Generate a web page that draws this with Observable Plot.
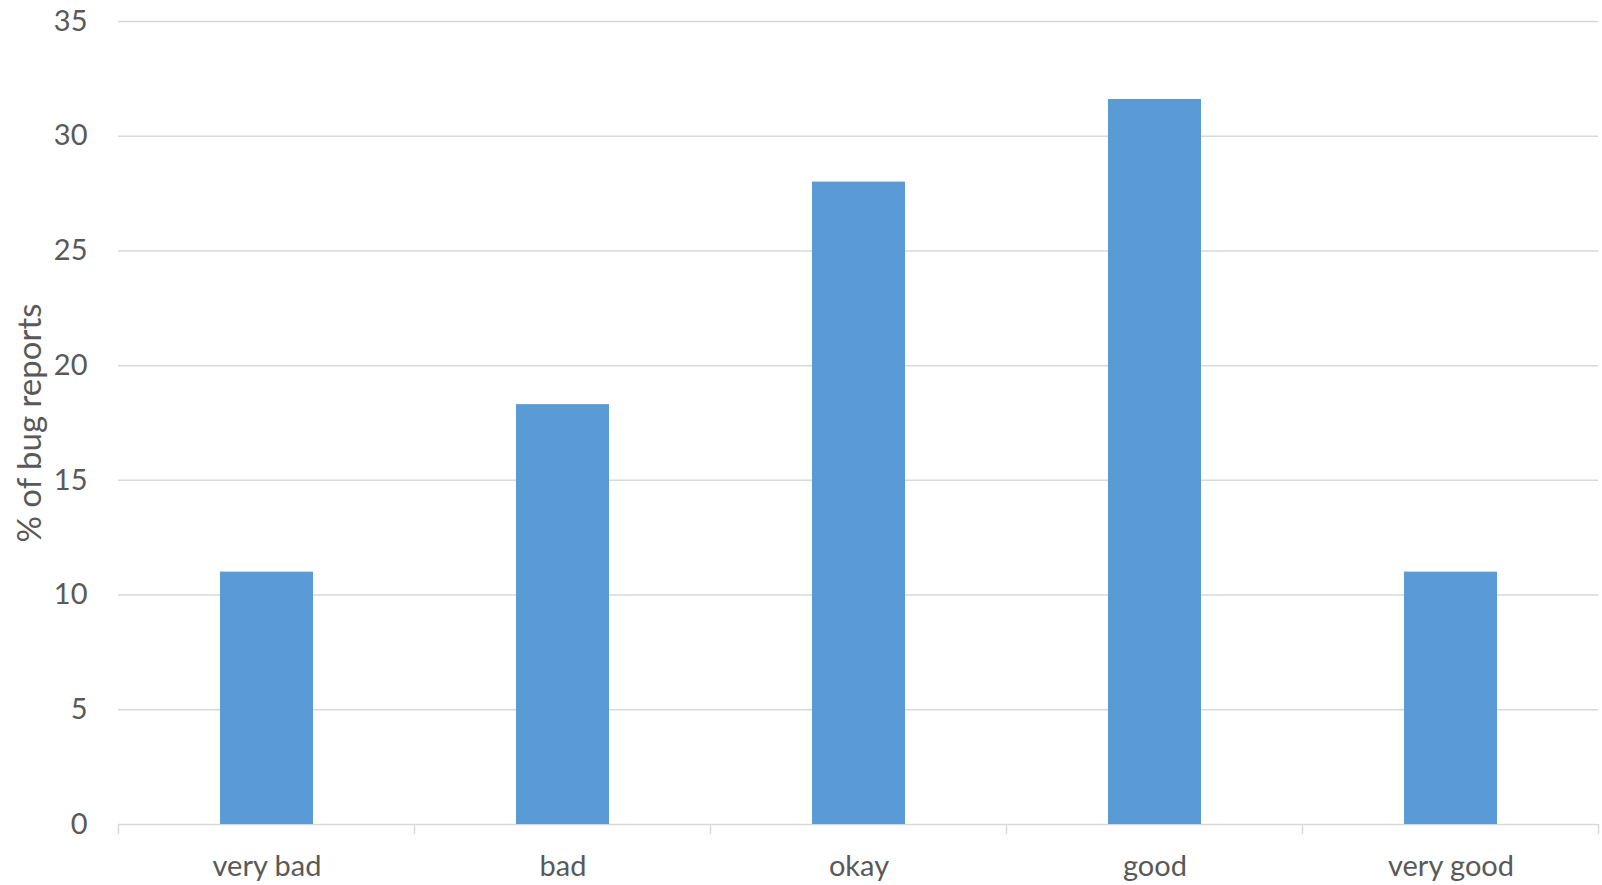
<!DOCTYPE html>
<html>
<head>
<meta charset="utf-8">
<script src="https://cdn.jsdelivr.net/npm/d3@7"></script>
<script src="https://cdn.jsdelivr.net/npm/@observablehq/plot@0.6"></script>
<style>
  html, body { margin: 0; padding: 0; background: #fff; }
  #chart svg { display: block; }
</style>
</head>
<body>
<div id="chart"></div>
<script>
const categories = ["very bad", "bad", "okay", "good", "very good"];
const values = [11.0, 18.3, 28.0, 31.6, 11.0];
const yTicks = [0, 5, 10, 15, 20, 25, 30, 35];
const yLabel = "% of bug reports";

const data = categories.map((c, i) => ({category: c, value: values[i]}));

const textColor = "#595959";
const gridColor = "#d9d9d9";
const barColor = "#5B9BD5";
const font = "Lato, 'Open Sans', sans-serif";

// boundary ticks between categories, drawn with the x band scale
function boundaryTicks(index, scales, values, dimensions) {
  const x = scales.x;
  const y = scales.y;
  const g = d3.create("svg:g");
  const step = x.step ? x.step() : (x(categories[1]) - x(categories[0]));
  const bw = x.bandwidth ? x.bandwidth() : 0;
  const y0 = y(0);
  const edges = categories.map(c => x(c) + bw / 2 - step / 2);
  edges.push(x(categories[categories.length - 1]) + bw / 2 + step / 2);
  for (const e of edges) {
    g.append("line")
      .attr("x1", e).attr("x2", e)
      .attr("y1", y0).attr("y2", y0 + 10)
      .attr("stroke", gridColor)
      .attr("stroke-width", 1.5);
  }
  return g.node();
}

const chart = Plot.plot({
  width: 1602,
  height: 885,
  marginLeft: 118,
  marginRight: 4,
  marginTop: 21,
  marginBottom: 61,
  style: {fontFamily: font, fontSize: "29px", color: textColor, background: "#fff"},
  x: {domain: categories, paddingInner: 0.687, paddingOuter: 0.3435},
  y: {domain: [0, 35]},
  marks: [
    Plot.ruleY(yTicks, {stroke: gridColor, strokeWidth: 1.5}),
    Plot.barY(data, {x: "category", y: "value", fill: barColor}),
    boundaryTicks,
    Plot.axisY({
      ticks: yTicks,
      tickSize: 0,
      tickPadding: 31,
      fill: textColor,
      fontSize: 29,
      label: null
    }),
    Plot.axisY({
      ticks: [],
      fill: textColor,
      fontSize: 33,
      label: yLabel,
      labelAnchor: "center",
      labelArrow: "none",
      labelOffset: 101
    }),
    Plot.axisX({
      tickSize: 0,
      tickPadding: 31,
      fill: textColor,
      fontSize: 29,
      label: null
    })
  ]
});

document.getElementById("chart").appendChild(chart);
</script>
</body>
</html>
